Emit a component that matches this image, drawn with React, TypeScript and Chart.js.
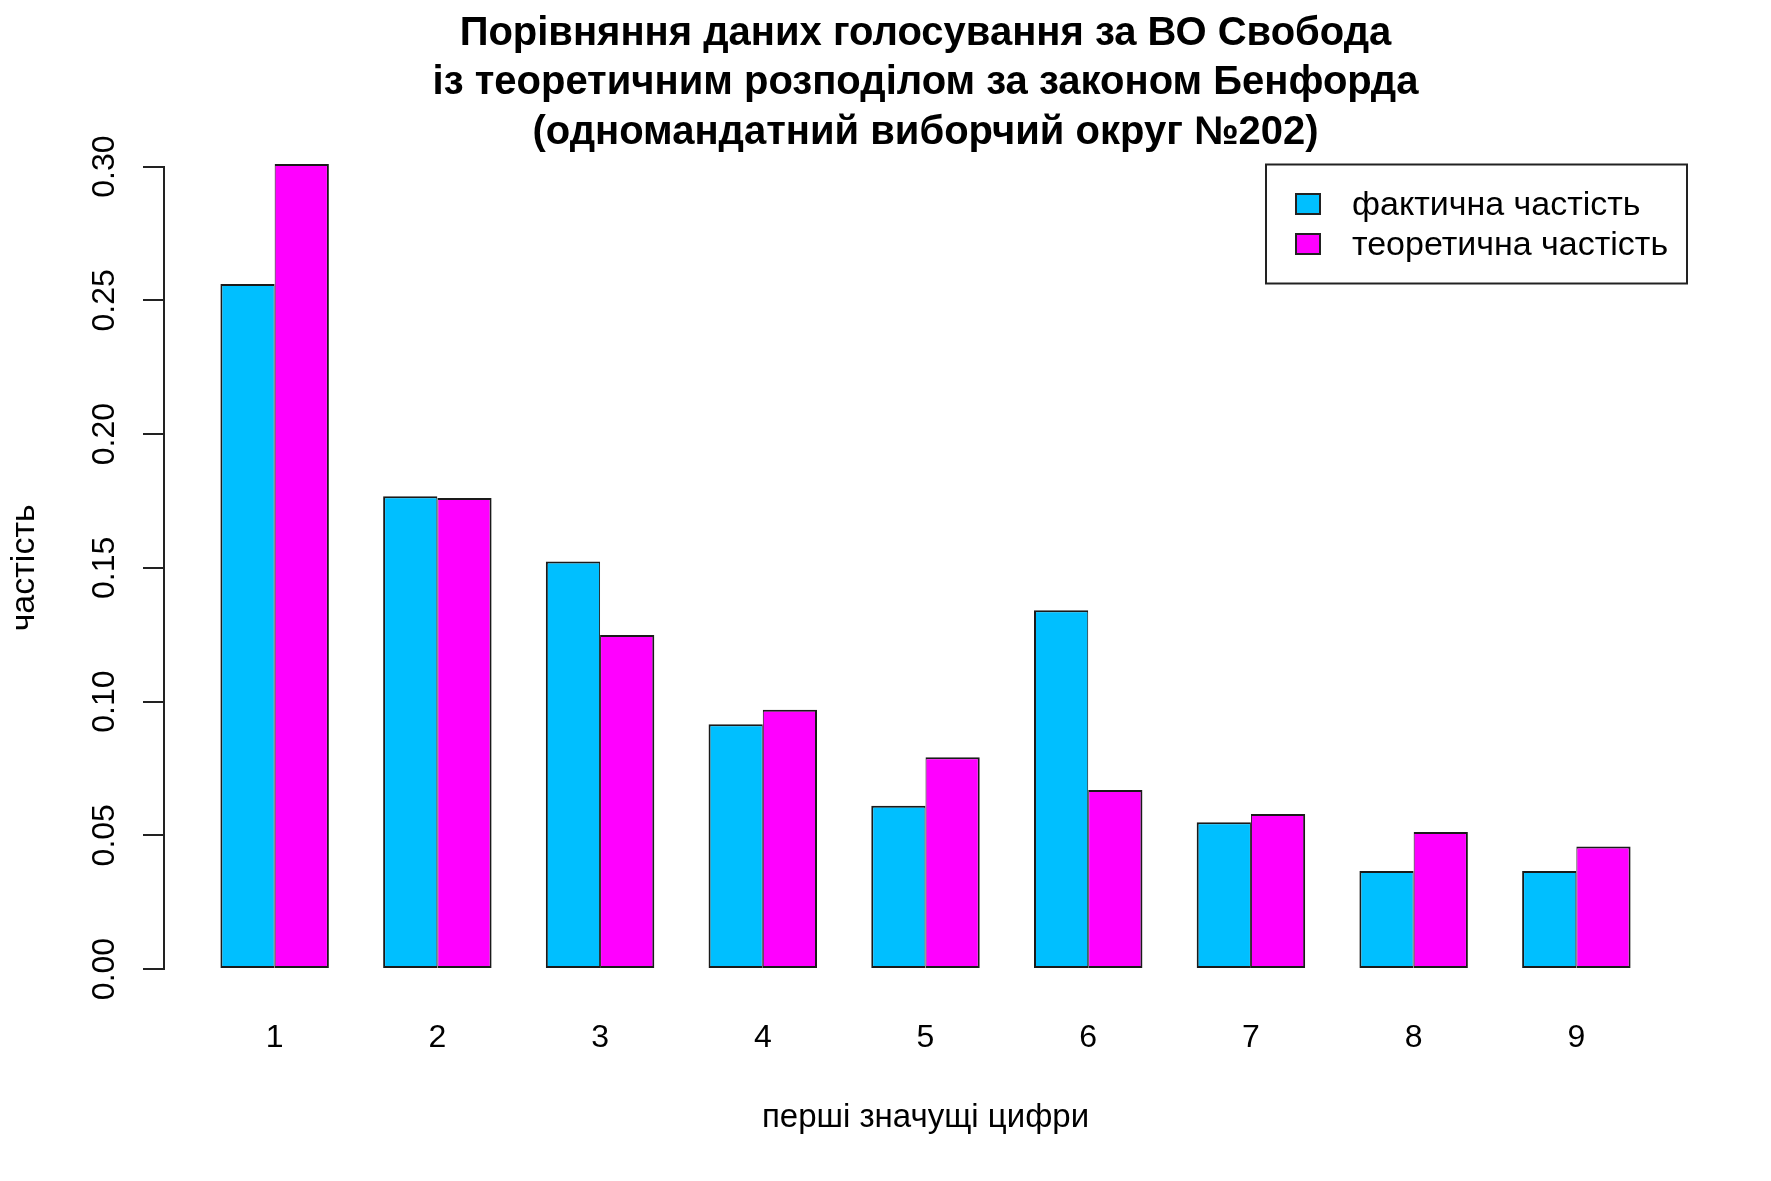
import React, { useEffect, useRef } from 'react';
import { Chart, registerables } from 'chart.js';

Chart.register(...registerables);

const digits = ['1', '2', '3', '4', '5', '6', '7', '8', '9'];
const actualFreq = [0.2561, 0.1768, 0.1524, 0.0915, 0.061, 0.1341, 0.0549, 0.0366, 0.0366];
const benfordFreq = [0.301, 0.1761, 0.1249, 0.0969, 0.0792, 0.0669, 0.058, 0.0512, 0.0458];
const yTickValues = [0, 0.05, 0.1, 0.15, 0.2, 0.25, 0.3];
const seriesLabels = ['фактична частість', 'теоретична частість'];
const seriesColors = ['#00BFFF', '#FF00FF'];
const titleLines = [
  'Порівняння даних голосування за ВО Свобода',
  'із теоретичним розподілом за законом Бенфорда',
  '(одномандатний виборчий округ №202)',
];
const xTitle = 'перші значущі цифри';
const yTitle = 'частість';

const FONT = '"Liberation Sans", Arial, Helvetica, sans-serif';
const W = 1771;
const H = 1181;

// bar-plot coordinate of each group centre (two unit-wide bars + one unit gap)
const groupX = digits.map((_, i) => 3 * i + 2);

const boxLegend = {
  id: 'boxLegend',
  afterDraw(chart: any) {
    const ctx = chart.ctx as CanvasRenderingContext2D;
    const area = chart.chartArea;
    const bx = 1266;
    const by = 164.5;
    const bw = area.right - bx;
    const bh = 119;
    ctx.save();
    ctx.strokeStyle = '#222';
    ctx.lineWidth = 2;
    ctx.strokeRect(bx, by, bw, bh);
    ctx.font = `34px ${FONT}`;
    ctx.textAlign = 'left';
    ctx.textBaseline = 'alphabetic';
    chart.data.datasets.forEach((ds: any, i: number) => {
      const sy = 194 + i * 40;
      ctx.fillStyle = ds.backgroundColor;
      ctx.fillRect(1296, sy, 24, 20);
      ctx.strokeStyle = '#222';
      ctx.lineWidth = 2;
      ctx.strokeRect(1296, sy, 24, 20);
      ctx.fillStyle = '#000';
      ctx.fillText(ds.label, 1352, 215 + i * 40);
    });
    ctx.restore();
  },
};

export default function App() {
  const ref = useRef<HTMLCanvasElement | null>(null);

  useEffect(() => {
    if (!ref.current) return;
    Chart.defaults.font.family = FONT;
    Chart.defaults.color = '#000';
    const chart = new Chart(ref.current, {
      type: 'bar',
      data: {
        datasets: [
          {
            label: seriesLabels[0],
            data: actualFreq.map((v, i) => ({ x: groupX[i], y: v })),
            backgroundColor: seriesColors[0],
            borderColor: '#1a1a1a',
            borderWidth: { top: 2, left: 2, right: 1, bottom: 2 },
            borderSkipped: false,
          },
          {
            label: seriesLabels[1],
            data: benfordFreq.map((v, i) => ({ x: groupX[i], y: v })),
            backgroundColor: seriesColors[1],
            borderColor: '#1a1a1a',
            borderWidth: { top: 2, left: 1, right: 2, bottom: 2 },
            borderSkipped: false,
          },
        ],
      },
      options: {
        animation: false,
        responsive: false,
        events: [],
        categoryPercentage: 2 / 3,
        barPercentage: 1,
        clip: false,
        layout: { padding: { left: 0, right: 84, top: 0, bottom: 0 } },
        plugins: {
          legend: { display: false },
          tooltip: { enabled: false },
          title: {
            display: true,
            fullSize: false,
            text: titleLines,
            color: '#000',
            font: { size: 40, weight: 'bold', family: FONT, lineHeight: 49.5 / 40 },
            padding: { top: 9.05, bottom: 9.1 },
          },
        },
        scales: {
          x: {
            type: 'linear',
            min: -0.04,
            max: 28.04,
            bounds: 'data',
            offset: false,
            grid: { display: false, drawTicks: false },
            border: { display: false },
            afterBuildTicks: (scale: any) => {
              scale.ticks = groupX.map((v) => ({ value: v }));
            },
            afterFit: (scale: any) => {
              scale.height = H - 969;
            },
            ticks: {
              autoSkip: false,
              maxRotation: 0,
              minRotation: 0,
              padding: 50,
              color: '#000',
              font: { size: 32, family: FONT },
              callback: (_v: any, i: number) => digits[i],
            },
            title: {
              display: true,
              text: xTitle,
              color: '#000',
              font: { size: 33, family: FONT },
              padding: { top: 0, bottom: 43.3 },
            },
          },
          y: {
            type: 'linear',
            min: 0,
            max: 0.3,
            bounds: 'data',
            grid: {
              display: true,
              drawOnChartArea: false,
              drawTicks: true,
              tickLength: 21,
              color: '#222',
              lineWidth: 2,
            },
            border: { display: true, color: '#222', width: 2 },
            afterBuildTicks: (scale: any) => {
              scale.ticks = yTickValues.map((v) => ({ value: v }));
            },
            afterFit: (scale: any) => {
              scale.width = 164;
            },
            ticks: {
              minRotation: 90,
              maxRotation: 90,
              crossAlign: 'center',
              padding: 6.3,
              color: '#000',
              font: { size: 32, family: FONT },
              callback: (v: any) => Number(v).toFixed(2),
            },
            title: {
              display: true,
              text: yTitle,
              color: '#000',
              font: { size: 34, family: FONT },
              padding: { top: 4.5, bottom: 0 },
            },
          },
        },
      } as any,
      plugins: [boxLegend],
    });
    return () => chart.destroy();
  }, []);

  return (
    <div style={{ position: 'absolute', left: 0, top: 0, width: W, height: H, background: '#fff' }}>
      <canvas ref={ref} width={W} height={H} style={{ display: 'block' }} />
    </div>
  );
}
